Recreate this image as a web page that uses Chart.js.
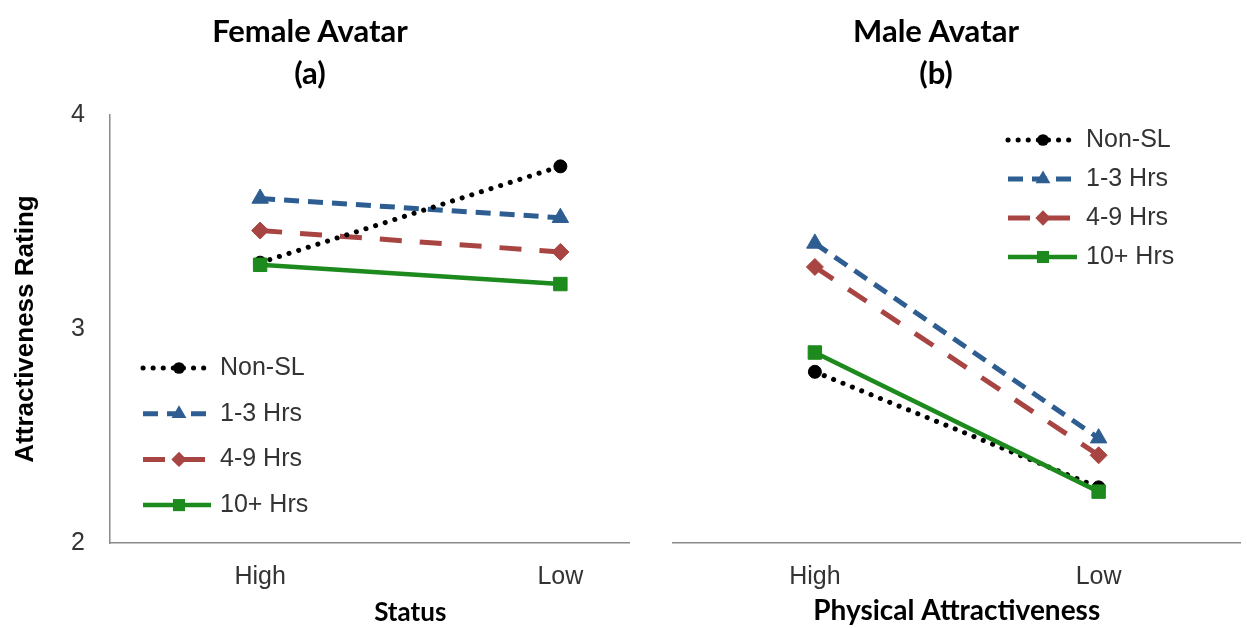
<!DOCTYPE html>
<html lang="en">
<head>
    <meta charset="UTF-8">
    <title>Attractiveness Rating by Avatar</title>
    <script src="https://cdn.jsdelivr.net/npm/chart.js@4.4.0/dist/chart.umd.min.js"></script>
    <style>
        html, body {
            margin: 0;
            padding: 0;
            background: #fff;
            overflow: hidden;
        }
        #page {
            position: relative;
            width: 1247px;
            height: 628px;
            overflow: hidden;
        }
        .panel {
            position: absolute;
            top: 0;
            height: 628px;
            overflow: hidden;
        }
        .panel canvas {
            display: block;
        }
        .panel-title {
            position: absolute;
            top: 9px;
            width: 300px;
            font-family: 'Lato', sans-serif;
            font-weight: bold;
            font-size: 31px;
            line-height: 42px;
            text-align: center;
            color: #000;
        }
    </style>
</head>
<body>
    <div id="page">
        <div class="panel" style="left:0;width:630px"><canvas id="female-chart" width="721" height="628"></canvas></div>
        <div class="panel" style="left:632px;width:615px"><canvas id="male-chart" width="619" height="628"></canvas></div>
        <div class="panel-title" style="left:160px">Female Avatar<br>(a)</div>
        <div class="panel-title" style="left:786px">Male Avatar<br>(b)</div>
    </div>

    <script>
        // Data
        const categories = ['High', 'Low'];
        const groups = ['Non-SL', '1-3 Hrs', '4-9 Hrs', '10+ Hrs'];
        const yTicks = [2, 3, 4];

        // Female avatar, by Status
        const femaleNonSL = [3.31, 3.76];
        const female1to3 = [3.61, 3.52];
        const female4to9 = [3.46, 3.36];
        const female10plus = [3.30, 3.21];

        // Male avatar, by Physical Attractiveness
        const maleNonSL = [2.80, 2.26];
        const male1to3 = [3.40, 2.49];
        const male4to9 = [3.29, 2.41];
        const male10plus = [2.89, 2.24];

        const styles = [
            { color: '#000000', dash: [0.1, 10], width: 5, cap: 'round', point: 'circle', radius: 6.5, order: 1 },
            { color: '#2E5E91', dash: [15, 9], width: 5, cap: 'butt', point: 'triangle', radius: 9.5, order: 3 },
            { color: '#A84543', dash: [22, 18], width: 5, cap: 'butt', point: 'rectRot', radius: 8.5, order: 2 },
            { color: '#1C8A1C', dash: [], width: 4.5, cap: 'butt', point: 'rect', radius: 9.5, order: 0 }
        ];

        const tickFont = { family: "'Liberation Sans', Arial, sans-serif", size: 25 };
        const tickColor = '#333333';
        const axisColor = '#8a8a8a';

        // draws the legend inside the plot, using each dataset's own line style
        const lineLegend = {
            id: 'lineLegend',
            afterDraw(chart, args, opts) {
                const ctx = chart.ctx;
                chart.data.datasets.forEach(function(ds, i) {
                    const y = opts.y + i * opts.gap;
                    ctx.save();
                    ctx.strokeStyle = ds.borderColor;
                    ctx.lineWidth = ds.borderWidth;
                    ctx.lineCap = ds.borderCapStyle;
                    ctx.setLineDash(ds.borderDash);
                    ctx.beginPath();
                    ctx.moveTo(opts.x, y);
                    ctx.lineTo(opts.x + opts.sample, y);
                    ctx.stroke();
                    ctx.setLineDash([]);
                    ctx.fillStyle = ds.borderColor;
                    if (Chart.helpers && Chart.helpers.drawPoint) {
                        Chart.helpers.drawPoint(ctx, {
                            pointStyle: ds.pointStyle,
                            radius: ds.pointRadius * 0.9,
                            rotation: 0,
                            borderWidth: 0
                        }, opts.x + opts.markerAt, y);
                    } else {
                        ctx.beginPath();
                        ctx.arc(opts.x + opts.markerAt, y, ds.pointRadius * 0.9, 0, Math.PI * 2);
                        ctx.fill();
                    }
                    ctx.fillStyle = tickColor;
                    ctx.font = tickFont.size + 'px ' + tickFont.family;
                    ctx.textBaseline = 'middle';
                    ctx.textAlign = 'left';
                    ctx.fillText(ds.label, opts.x + opts.textAt, y);
                    ctx.restore();
                });
            }
        };

        function buildDatasets(seriesList) {
            return seriesList.map(function(values, i) {
                const s = styles[i];
                return {
                    label: groups[i],
                    data: values,
                    borderColor: s.color,
                    backgroundColor: s.color,
                    borderWidth: s.width,
                    borderDash: s.dash,
                    borderCapStyle: s.cap,
                    pointStyle: s.point,
                    pointRadius: s.radius,
                    pointBackgroundColor: s.color,
                    pointBorderColor: s.color,
                    pointBorderWidth: 1,
                    order: s.order,
                    tension: 0
                };
            });
        }

        function makeChart(id, seriesList, cfg) {
            const ctx = document.getElementById(id).getContext('2d');
            return new Chart(ctx, {
                type: 'line',
                data: {
                    labels: categories,
                    datasets: buildDatasets(seriesList)
                },
                options: {
                    responsive: false,
                    animation: false,
                    devicePixelRatio: 1,
                    layout: { padding: { top: 115, left: cfg.padLeft, right: 0, bottom: 0 } },
                    plugins: {
                        legend: { display: false },
                        tooltip: { enabled: false },
                        lineLegend: cfg.legend
                    },
                    scales: {
                        x: {
                            type: 'category',
                            offset: true,
                            grid: { display: false, drawTicks: false },
                            border: { display: true, color: axisColor, width: 1.5 },
                            ticks: { font: tickFont, color: tickColor, padding: 19 },
                            title: {
                                display: true,
                                text: cfg.xTitle,
                                color: '#000',
                                font: { family: "'Lato', sans-serif", weight: 'bold', size: cfg.xTitleSize },
                                padding: { top: 0, bottom: 0 }
                            },
                            afterFit: function(scale) { scale.height = 85; }
                        },
                        y: {
                            display: cfg.showY,
                            min: 2,
                            max: 4,
                            afterBuildTicks: function(scale) {
                                scale.ticks = yTicks.map(function(v) { return { value: v }; });
                            },
                            grid: { display: false, drawTicks: false },
                            border: { display: true, color: axisColor, width: 1.5 },
                            ticks: { font: tickFont, color: tickColor, padding: 25 },
                            title: {
                                display: true,
                                text: 'Attractiveness Rating',
                                color: '#000',
                                font: { family: "'Liberation Sans', Arial, sans-serif", weight: 'bold', size: 26 },
                                padding: { top: 10, bottom: 0 }
                            },
                            afterFit: function(scale) { if (cfg.showY) scale.width = 110; }
                        }
                    }
                },
                plugins: [lineLegend]
            });
        }

        makeChart('female-chart', [femaleNonSL, female1to3, female4to9, female10plus], {
            padLeft: 0,
            showY: true,
            xTitle: 'Status',
            xTitleSize: 26,
            legend: { x: 143, y: 368, gap: 45.7, sample: 68, markerAt: 36, textAt: 77 }
        });

        makeChart('male-chart', [maleNonSL, male1to3, male4to9, male10plus], {
            padLeft: 41,
            showY: false,
            xTitle: 'Physical Attractiveness',
            xTitleSize: 28,
            legend: { x: 376, y: 140, gap: 39, sample: 69, markerAt: 35, textAt: 78 }
        });
    </script>
</body>
</html>
